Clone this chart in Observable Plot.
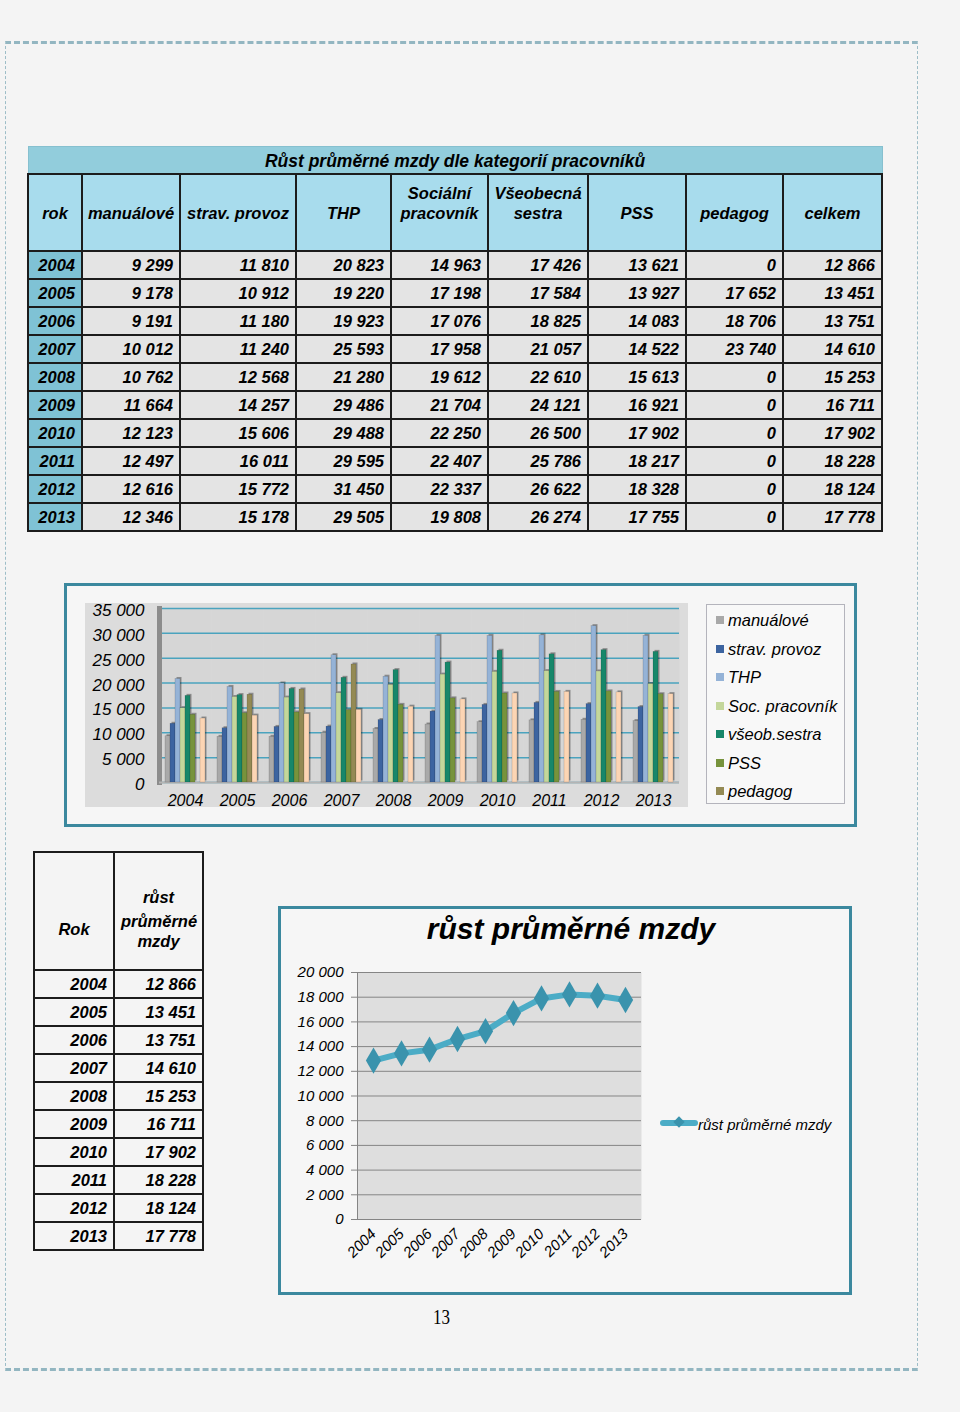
<!DOCTYPE html>
<html><head><meta charset="utf-8">
<script src="https://cdn.jsdelivr.net/npm/d3@7"></script>
<script src="https://cdn.jsdelivr.net/npm/@observablehq/plot@0.6"></script>
<style>
html,body{margin:0;padding:0;background:#f4f4f4;}
#page{position:relative;width:960px;height:1412px;overflow:hidden;font-family:"Liberation Sans",Arial,sans-serif;color:#000;}
.abs{position:absolute;}
#frame{left:5px;top:41px;width:911px;height:1324px;border-top:3px dashed #93b6c1;border-bottom:3px dashed #93b6c1;border-left:1px dashed #9dbdc7;border-right:1px dashed #9dbdc7;}
table{border-collapse:collapse;table-layout:fixed;}
#t1{left:27px;top:146px;width:854px;}
#t1 td{font-weight:bold;font-style:italic;font-size:16.5px;padding:0 6px;text-align:right;border:2px solid #1c1c1c;background:#e4e4e4;vertical-align:middle;}
#t1 tr.row{height:28px;}
#t1 td.rok{background:#7fc2d5;}
#t1 td.title{background:#92cddc;border:1px solid #86c0cf;text-align:center;font-size:17.5px;height:24px;padding:2px 0 0 0;}
#t1 td.head{background:#a8dced;text-align:center;vertical-align:bottom;padding:0 2px 27px 2px;line-height:20px;height:48px;}
#t2{left:33px;top:851px;width:169px;}
#t2 td{font-weight:bold;font-style:italic;font-size:16.5px;padding:0 6px;text-align:right;border:2px solid #1c1c1c;vertical-align:middle;}
#t2 tr.row{height:28px;}
#t2 tr.headrow{height:118px;}
#t2 td.head{text-align:center;vertical-align:bottom;}
#box1{left:64px;top:583px;width:787px;height:238px;border:3px solid #3b889e;background:#f6f6f6;}
#box2{left:278px;top:906px;width:568px;height:383px;border:3px solid #3b889e;background:#f6f6f6;}
#chart1{left:85px;top:603px;}
#chart2{left:282px;top:955px;}
#legend1{left:706px;top:604px;width:137px;height:198px;border:1px solid #b4b4bc;background:#f8f8f8;}
.li{position:absolute;left:9px;font-style:italic;font-size:16.5px;white-space:nowrap;line-height:20px;}
.li span.sw{display:inline-block;width:8px;height:8px;margin-right:4px;vertical-align:2px;}
#title2{left:371px;top:910px;width:400px;text-align:center;font-weight:bold;font-style:italic;font-size:30px;line-height:38px;}
#legend2{left:660px;top:1115px;font-style:italic;font-size:15px;white-space:nowrap;line-height:20px;}
#legend2 .ln{display:inline-block;position:relative;width:38px;height:6px;background:#4bacc6;vertical-align:4px;border-radius:3px;}
#legend2 .dm{position:absolute;left:15px;top:-2px;width:8px;height:8px;background:#3a93ad;transform:rotate(45deg);}
#pnum{left:433px;top:1306px;font-family:"Liberation Serif",serif;font-size:20px;transform:scaleX(0.85);transform-origin:left;}
</style></head>
<body><div id="page">
<div id="frame" class="abs"></div>
<table id="t1" class="abs"></table>
<div id="box1" class="abs"></div>
<div id="chart1" class="abs"></div>
<div id="legend1" class="abs"></div>
<table id="t2" class="abs"></table>
<div id="box2" class="abs"></div>
<div id="title2" class="abs">růst průměrné mzdy</div>
<div id="chart2" class="abs"></div>
<div id="legend2" class="abs"><span class="ln"><span class="dm"></span></span>růst průměrné mzdy</div>
<div id="pnum" class="abs">13</div>
</div>
<script>
// ---- data ----
const years = [2004, 2005, 2006, 2007, 2008, 2009, 2010, 2011, 2012, 2013];
const manualove = [9299, 9178, 9191, 10012, 10762, 11664, 12123, 12497, 12616, 12346];
const stravProvoz = [11810, 10912, 11180, 11240, 12568, 14257, 15606, 16011, 15772, 15178];
const thp = [20823, 19220, 19923, 25593, 21280, 29486, 29488, 29595, 31450, 29505];
const socPracovnik = [14963, 17198, 17076, 17958, 19612, 21704, 22250, 22407, 22337, 19808];
const sestra = [17426, 17584, 18825, 21057, 22610, 24121, 26500, 25786, 26622, 26274];
const pss = [13621, 13927, 14083, 14522, 15613, 16921, 17902, 18217, 18328, 17755];
const pedagog = [0, 17652, 18706, 23740, 0, 0, 0, 0, 0, 0];
const celkem = [12866, 13451, 13751, 14610, 15253, 16711, 17902, 18228, 18124, 17778];

const tableTitle = "Růst průměrné mzdy dle kategorií pracovníků";
const tableHeads = ["rok", "manuálové", "strav. provoz", "THP", "Sociální\npracovník", "Všeobecná\nsestra", "PSS", "pedagog", "celkem"];
const seriesNames = ["manuálové", "strav. provoz", "THP", "Soc. pracovník", "všeob.sestra", "PSS", "pedagog", "celkem"];
const legendNames = ["manuálové", "strav. provoz", "THP", "Soc. pracovník", "všeob.sestra", "PSS", "pedagog"];
const seriesColors = ["#a9a9a9", "#3c64a0", "#95b3d7", "#c4d79b", "#17876a", "#77933c", "#948a54", "#fcd5b4"];
const barTicks = [0, 5000, 10000, 15000, 20000, 25000, 30000, 35000];
const smallHeads = ["Rok", "růst\nprůměrné\nmzdy"];
const lineTitle = "růst průměrné mzdy";
const lineTicks = [0, 2000, 4000, 6000, 8000, 10000, 12000, 14000, 16000, 18000, 20000];

const fmt = v => d3.format(",")(v).replace(/,/g, " ");
const seriesValues = [manualove, stravProvoz, thp, socPracovnik, sestra, pss, pedagog, celkem];

// ---- big table ----
{
  const t = document.getElementById("t1");
  const widths = [54, 98, 116, 95, 97, 100, 98, 97, 99];
  let h = "<colgroup>" + widths.map(w => `<col style="width:${w}px">`).join("") + "</colgroup>";
  h += `<tr><td class="title" colspan="9">${tableTitle}</td></tr>`;
  h += "<tr>" + tableHeads.map(s => `<td class="head">${s.replace("\n", "<br>")}</td>`).join("") + "</tr>";
  years.forEach((y, i) => {
    h += `<tr class="row"><td class="rok">${y}</td>` + seriesValues.map(a => `<td>${fmt(a[i])}</td>`).join("") + "</tr>";
  });
  t.innerHTML = h;
}
// ---- small table ----
{
  const t = document.getElementById("t2");
  let h = `<colgroup><col style="width:80px"><col style="width:89px"></colgroup>`;
  const p = smallHeads[1].split("\n");
  h += `<tr class="headrow"><td class="head" style="padding-bottom:30px;line-height:20px">${smallHeads[0]}</td>` +
       `<td class="head" style="padding-bottom:18px"><div style="line-height:28px">${p[0]}</div><div style="line-height:20px">${p[1]}<br>${p[2]}</div></td></tr>`;
  years.forEach((y, i) => { h += `<tr class="row"><td>${y}</td><td>${fmt(celkem[i])}</td></tr>`; });
  t.innerHTML = h;
}
// ---- legend 1 ----
{
  const L = document.getElementById("legend1");
  L.innerHTML = legendNames.map((n, i) =>
    `<div class="li" style="top:${5 + i * 28.5}px"><span class="sw" style="background:${seriesColors[i]}"></span>${n}</div>`).join("");
}
// ---- bar chart ----
const barRows = [];
years.forEach((y, i) => seriesNames.forEach((s, j) => barRows.push({year: y, series: s, value: seriesValues[j][i]})));

const chart1 = Plot.plot({
  width: 603, height: 204,
  marginLeft: 73, marginRight: 8, marginTop: 5, marginBottom: 25,
  style: {background: "#dcdcdc", fontFamily: "Liberation Sans, Arial, sans-serif", fontStyle: "italic", fontSize: "16px", color: "#000", overflow: "visible"},
  fx: {domain: years, padding: 0, axis: null},
  x: {domain: seriesNames, paddingInner: 0, paddingOuter: 0.4, axis: null},
  y: {domain: [0, 35000], axis: null},
  color: {domain: seriesNames, range: seriesColors},
  marks: [
    Plot.frame({fill: "#d6d6d6"}),
    Plot.gridY(barTicks, {stroke: "#4aa3be", strokeOpacity: 1, strokeWidth: 1.5}),
    Plot.frame({anchor: "left", stroke: "#8c8c8c", strokeWidth: 5, facetAnchor: "left"}),
    Plot.ruleY([0], {stroke: "#b4b4b4", strokeWidth: 2}),
    Plot.barY(barRows, {fx: "year", x: "series", y: "value", fill: "#000", fillOpacity: 0.35, dx: 1.5, dy: -1.5}),
    Plot.barY(barRows, {fx: "year", x: "series", y: "value", fill: "series", stroke: "#000", strokeOpacity: 0.25, strokeWidth: 0.5}),
    Plot.axisY(barTicks, {tickSize: 0, tickPadding: 15, dy: 2, tickFormat: fmt, fontSize: 17, label: null}),
    Plot.axisFx({anchor: "bottom", tickSize: 0, tickPadding: 12, tickFormat: d => String(d), fontSize: 16, label: null})
  ]
});
document.getElementById("chart1").appendChild(chart1);

// ---- line chart ----
const lineData = years.map((y, i) => ({year: y, value: celkem[i]}));
const chart2 = Plot.plot({
  width: 560, height: 320,
  marginLeft: 75, marginRight: 201, marginTop: 17, marginBottom: 56,
  style: {background: "transparent", fontFamily: "Liberation Sans, Arial, sans-serif", fontStyle: "italic", fontSize: "15px", color: "#000", overflow: "visible"},
  x: {type: "point", domain: years, padding: 0.5, axis: null},
  y: {domain: [0, 20000], axis: null},
  marks: [
    Plot.frame({fill: "#dedede"}),
    Plot.gridY(lineTicks, {stroke: "#858585", strokeOpacity: 1}),
    Plot.frame({anchor: "left", stroke: "#858585"}),
    Plot.axisY(lineTicks, {tickSize: 6, tickPadding: 8, stroke: "#858585", tickFormat: fmt, fontSize: 15, label: null}),
    Plot.axisX({tickRotate: -45, tickSize: 0, tickPadding: 12, tickFormat: d => String(d), fontSize: 15, label: null}),
    Plot.lineY(lineData, {x: "year", y: "value", stroke: "#4bacc6", strokeWidth: 6}),
    Plot.dot(lineData, {x: "year", y: "value", symbol: "diamond", r: 8, fill: "#3a93ad"})
  ]
});
document.getElementById("chart2").appendChild(chart2);
</script>
</body></html>
